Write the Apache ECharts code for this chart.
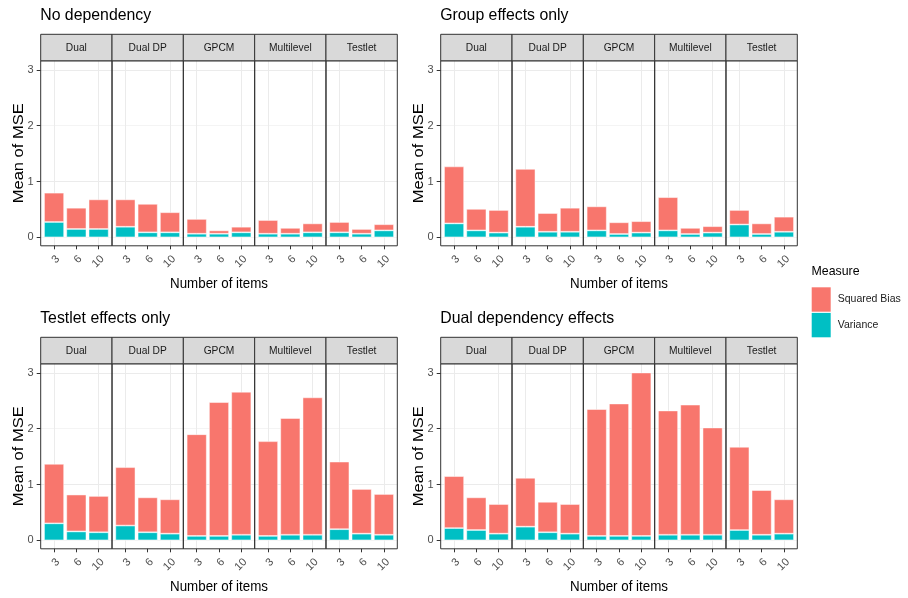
<!DOCTYPE html>
<html><head><meta charset="utf-8">
<script src="https://cdn.jsdelivr.net/npm/echarts@6/dist/echarts.min.js"></script>
<style>html,body{margin:0;padding:0;background:#fff}#c{width:908px;height:598px}</style>
</head><body><div id="c"></div>
<script>
// ---------- data ----------
const panelTitles = ['No dependency', 'Group effects only', 'Testlet effects only', 'Dual dependency effects'];
const models = ['Dual', 'Dual DP', 'GPCM', 'Multilevel', 'Testlet'];
const itemCounts = ['3', '6', '10'];
const yTickValues = [0, 1, 2, 3];
const xTitle = 'Number of items';
const yTitle = 'Mean of MSE';
const legendTitle = 'Measure';
// values listed model by model, each as [3, 6, 10] items
const varianceNoDep   = [0.275,0.15,0.15, 0.19,0.09,0.09, 0.065,0.065,0.09, 0.065,0.065,0.09, 0.09,0.065,0.125];
const sqBiasNoDep     = [0.525,0.38,0.53, 0.49,0.51,0.36, 0.265,0.06,0.10, 0.245,0.105,0.16, 0.185,0.085,0.11];
const varianceGroup   = [0.25,0.125,0.085, 0.19,0.10,0.10, 0.125,0.06,0.085, 0.125,0.06,0.085, 0.23,0.06,0.10];
const sqBiasGroup     = [1.02,0.385,0.405, 1.035,0.335,0.43, 0.43,0.21,0.205, 0.595,0.11,0.115, 0.26,0.19,0.27];
const varianceTestlet = [0.305,0.16,0.145, 0.265,0.145,0.12, 0.08,0.08,0.10, 0.08,0.10,0.10, 0.20,0.12,0.10];
const sqBiasTestlet   = [1.065,0.66,0.65, 1.045,0.625,0.615, 1.82,2.395,2.56, 1.695,2.09,2.46, 1.21,0.80,0.73];
const varianceDual    = [0.22,0.185,0.12, 0.245,0.145,0.12, 0.08,0.08,0.08, 0.10,0.10,0.10, 0.185,0.10,0.12];
const sqBiasDual      = [0.93,0.585,0.53, 0.875,0.545,0.53, 2.27,2.37,2.925, 2.225,2.33,1.92, 1.49,0.80,0.615];

const panelVariance = [varianceNoDep, varianceGroup, varianceTestlet, varianceDual];
const panelSqBias = [sqBiasNoDep, sqBiasGroup, sqBiasTestlet, sqBiasDual];

// ---------- layout / style ----------
const FONT = "'Liberation Sans', Arial, Helvetica, sans-serif";
const COL_BIAS = '#F8766D', COL_VAR = '#00BFC4';
const SQUEEZE = 0.89; // reference text is slightly condensed horizontally
const panelLeft = [40.7, 440.7];
const stripTop = [34.3, 337.3];
const plotW = 356.6, stripH = 26.5, plotH = 185;
const fw = plotW / models.length;
const yMin = -0.151, yMax = 3.161;
const xMin = -0.6, xMax = 2.6;
const unit = fw / (xMax - xMin);
const inset = (fw - 3 * unit) / 2;

const grids = [], xAxes = [], yAxes = [], series = [], graphics = [];

panelTitles.forEach((title, pi) => {
  const col = pi % 2, row = Math.floor(pi / 2);
  const L = panelLeft[col], ST = stripTop[row], PT = ST + stripH;
  graphics.push({type: 'text', x: L - 0.5, y: ST - 18.5, z: 50, scaleX: 0.96,
    style: {text: title, fontSize: 16.5, fontFamily: FONT, fill: '#000', align: 'left', verticalAlign: 'middle'}});
  graphics.push({type: 'text', x: L + plotW / 2, y: PT + plotH + 37.8, z: 50, scaleX: SQUEEZE,
    style: {text: xTitle, fontSize: 15, fontFamily: FONT, fill: '#000', align: 'center', verticalAlign: 'middle'}});
  graphics.push({type: 'text', x: L - 22, y: PT + plotH / 2, rotation: Math.PI / 2, z: 50, scaleY: SQUEEZE,
    style: {text: yTitle, fontSize: 16.5, fontFamily: FONT, fill: '#000', align: 'center', verticalAlign: 'middle'}});

  models.forEach((m, fi) => {
    const gl = L + fi * fw;
    // frame grid: gridlines, ticks, labels
    const gi = grids.length;
    grids.push({left: gl, top: PT, width: fw, height: plotH, show: true, backgroundColor: '#fff', borderWidth: 0});
    xAxes.push({
      gridIndex: gi, type: 'value', min: xMin, max: xMax,
      axisLine: {show: false, onZero: false},
      axisTick: {show: true, customValues: [0, 1, 2], length: 3.5, lineStyle: {color: '#333333'}},
      axisLabel: {customValues: [0, 1, 2], formatter: v => itemCounts[Math.round(v)],
        rotate: 45, align: 'right', verticalAlign: 'top', margin: 7.5,
        fontSize: 11, fontFamily: FONT, color: '#4D4D4D'},
      splitLine: {show: true, lineStyle: {color: ['#EBEBEB', 'rgba(0,0,0,0)'], width: 1}}
    });
    yAxes.push({
      gridIndex: gi, type: 'value', min: yMin, max: yMax,
      axisLine: {show: false, onZero: false},
      axisTick: {show: fi === 0, customValues: yTickValues, length: 4, lineStyle: {color: '#333333'}},
      axisLabel: {show: fi === 0, customValues: yTickValues, margin: 7,
        fontSize: 11, fontFamily: FONT, color: '#4D4D4D'},
      splitLine: {show: true, lineStyle: {color: ['#F4F4F4', '#EBEBEB'], width: 1}}
    });
    // bar grid: inset so that categories sit at the frame's 0,1,2 positions
    const bi = grids.length;
    grids.push({left: gl + inset, top: PT, width: fw - 2 * inset, height: plotH, show: false});
    xAxes.push({gridIndex: bi, type: 'category', data: itemCounts, show: false, boundaryGap: true});
    yAxes.push({gridIndex: bi, type: 'value', min: yMin, max: yMax, show: false});

    // facet frame and strip
    graphics.push({type: 'rect', z: 40, shape: {x: gl, y: PT, width: fw, height: plotH},
      style: {fill: 'none', stroke: '#333333', lineWidth: 1}});
    graphics.push({type: 'rect', z: 40, shape: {x: gl, y: ST, width: fw, height: stripH},
      style: {fill: '#D9D9D9', stroke: '#333333', lineWidth: 1}});
    graphics.push({type: 'text', z: 41, x: gl + fw / 2, y: ST + stripH / 2, scaleX: SQUEEZE,
      style: {text: m, fontSize: 11.5, fontFamily: FONT, fill: '#1A1A1A', align: 'center', verticalAlign: 'middle'}});

    const idx = [0, 1, 2].map(k => fi * 3 + k);
    series.push({
      type: 'bar', name: 'Variance', xAxisIndex: bi, yAxisIndex: bi, stack: 's' + bi,
      barWidth: '90%', itemStyle: {color: COL_VAR, borderColor: 'rgba(255,255,255,0.6)', borderWidth: 0.8},
      data: idx.map(d => panelVariance[pi][d])
    });
    series.push({
      type: 'bar', name: 'Squared Bias', xAxisIndex: bi, yAxisIndex: bi, stack: 's' + bi,
      barWidth: '90%', itemStyle: {color: COL_BIAS, borderColor: 'rgba(255,255,255,0.6)', borderWidth: 0.8},
      data: idx.map(d => panelSqBias[pi][d])
    });
  });
});

graphics.push({type: 'text', x: 811.5, y: 271, z: 50, scaleX: 0.95,
  style: {text: legendTitle, fontSize: 13, fontFamily: FONT, fill: '#000', align: 'left', verticalAlign: 'middle'}});

const chart = echarts.init(document.getElementById('c'), null, {renderer: 'canvas'});
chart.setOption({
  animation: false,
  backgroundColor: '#fff',
  grid: grids,
  xAxis: xAxes,
  yAxis: yAxes,
  series: series,
  legend: {
    data: ['Squared Bias', 'Variance'], orient: 'vertical', left: 811.7, top: 287.3,
    itemWidth: 19, itemHeight: 24.4, itemGap: 1.2, icon: 'rect', padding: 0, selectedMode: false,
    itemStyle: {borderWidth: 0},
    textStyle: {fontSize: 10.5, fontFamily: FONT, color: '#1A1A1A', padding: [0, 0, 0, 2]}
  },
  graphic: graphics
});
</script>
</body></html>
